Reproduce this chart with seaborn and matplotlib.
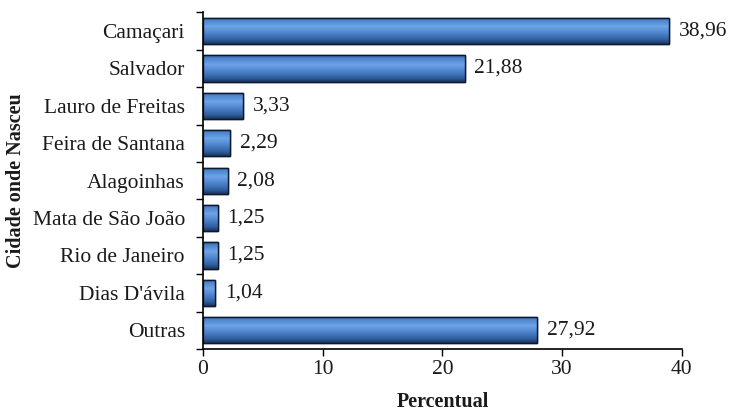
import matplotlib
matplotlib.use("Agg")
import matplotlib.pyplot as plt
import numpy as np
import pandas as pd
import seaborn as sns
from matplotlib.colors import LinearSegmentedColormap

cities = ["Camaçari", "Salvador", "Lauro de Freitas", "Feira de Santana",
          "Alagoinhas", "Mata de São João", "Rio de Janeiro", "Dias D'ávila",
          "Outras"]
percent = [38.96, 21.88, 3.33, 2.29, 2.08, 1.25, 1.25, 1.04, 27.92]
x_ticks = [0, 10, 20, 30, 40]

df = pd.DataFrame({"Cidade": cities, "Percentual": percent})

sns.set_theme(style="white")
plt.rcParams["font.family"] = ["Liberation Serif", "DejaVu Serif"]

fig = plt.figure(figsize=(7.3, 4.13), dpi=100)
ax = fig.add_axes([0.278, 0.155, 0.656, 0.815])

sns.barplot(data=df, x="Percentual", y="Cidade", orient="h", ax=ax,
            color="#4a7cc4", width=0.7, edgecolor="#0d1a2e", linewidth=1.0)

# cylinder-like vertical shading on each bar
shade = LinearSegmentedColormap.from_list(
    "shade",
    [(0.0, "#2e5a98"), (0.12, "#4d85cf"), (0.35, "#6ea3e6"),
     (0.6, "#4d84cc"), (0.85, "#305e9e"), (1.0, "#1a3560")])
grad = np.linspace(0, 1, 64).reshape(-1, 1)
for patch in ax.patches:
    x0, y0 = patch.get_x(), patch.get_y()
    w, h = patch.get_width(), patch.get_height()
    im = ax.imshow(grad, cmap=shade, aspect="auto", origin="upper",
                   extent=[x0, x0 + w, y0 + h, y0], zorder=patch.get_zorder() + 0.1,
                   interpolation="bilinear")
    im.set_clip_path(patch)
    edge = plt.Rectangle((x0, y0), w, h, fill=False, edgecolor="#0d1a2e",
                         linewidth=1.0, zorder=patch.get_zorder() + 0.2)
    ax.add_patch(edge)

fs = 15.5
for i, v in enumerate(percent):
    ax.text(v + 0.8, i, f"{v:.2f}".replace(".", ","), va="center", ha="left",
            fontsize=fs, color="#1a1a1a")

ax.set_xlim(0, 40)
ax.set_ylim(len(cities) - 0.5, -0.5)
ax.set_xticks(x_ticks)
ax.set_xticklabels([str(t) for t in x_ticks], fontsize=fs, color="#1a1a1a")
ax.set_yticks(np.arange(len(cities)))
ax.set_yticklabels(cities, fontsize=fs, color="#1a1a1a")
ax.tick_params(axis="y", length=0, pad=13)
# category boundary ticks on the y axis
ax.set_yticks(np.arange(-0.5, len(cities), 1.0), minor=True)
ax.tick_params(axis="y", which="minor", length=5, width=1, direction="out",
               left=True, color="#000000")
ax.tick_params(axis="x", length=5, width=1, direction="out", bottom=True,
               color="#000000", pad=3)

for side in ["top", "right"]:
    ax.spines[side].set_visible(False)
for side in ["left", "bottom"]:
    ax.spines[side].set_color("#000000")
    ax.spines[side].set_linewidth(1.2)

ax.set_xlabel("Percentual", fontsize=14.5, fontweight="bold", labelpad=9,
              color="#1a1a1a")
ax.set_ylabel("Cidade onde Nasceu", fontsize=14.5, fontweight="bold",
              labelpad=5, color="#1a1a1a")

fig.savefig("out.png", dpi=100, facecolor="white")
